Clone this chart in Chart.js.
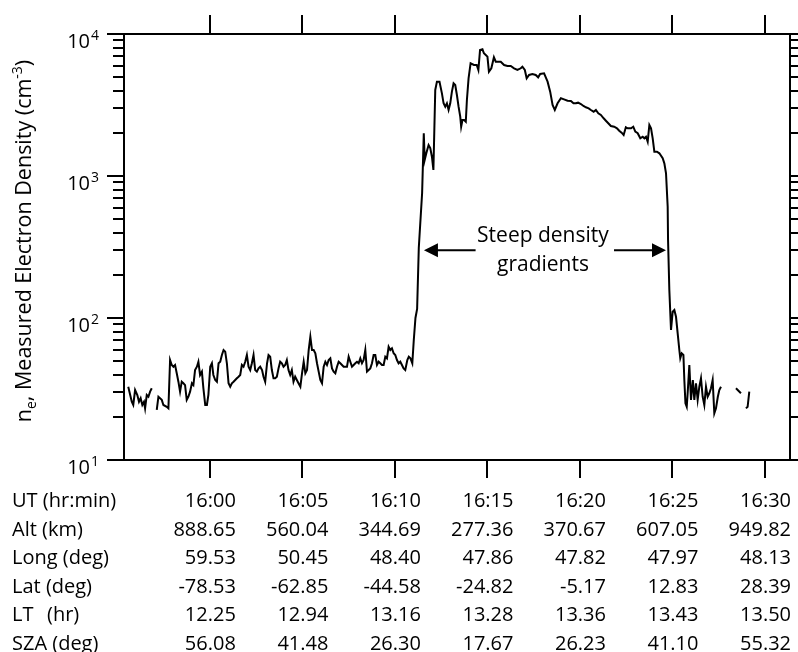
<!DOCTYPE html>
<html><head><meta charset="utf-8">
<script src="https://cdn.jsdelivr.net/npm/chart.js@4.4.1/dist/chart.umd.min.js"></script>
<style>html,body{margin:0;padding:0;background:#fff}canvas{display:block}</style>
</head><body>
<canvas id="c" width="798" height="652"></canvas>
<script>
// UT in minutes after 16:00
const utMinutes = [
-4.41,-4.22,-4.14,-4.04,-3.92,-3.83,-3.74,-3.65,-3.56,-3.50,
-3.41,-3.32,-3.23,-3.14,-3.00,-2.87,-2.78,-2.60,-2.51,-2.33,
-2.24,-2.15,-2.06,-1.97,-1.88,-1.79,-1.70,-1.61,-1.52,-1.43,
-1.34,-1.25,-1.16,-1.07,-0.97,-0.89,-0.80,-0.70,-0.62,-0.53,
-0.43,-0.35,-0.25,-0.16,-0.08,0.02,0.11,0.19,0.29,0.38,
0.47,0.56,0.65,0.74,0.83,0.92,1.01,1.10,1.19,1.28,
1.37,1.46,1.55,1.64,1.73,1.82,1.91,2.00,2.09,2.18,
2.27,2.36,2.45,2.54,2.63,2.72,2.82,2.90,2.99,3.09,
3.17,3.26,3.35,3.44,3.53,3.62,3.71,3.80,3.89,3.98,
4.07,4.16,4.25,4.34,4.43,4.52,4.61,4.70,4.79,4.89,
4.98,5.07,5.16,5.25,5.34,5.43,5.52,5.61,5.70,5.79,
5.88,5.97,6.06,6.15,6.24,6.33,6.42,6.51,6.60,6.69,
6.78,6.87,6.96,7.05,7.14,7.23,7.32,7.41,7.50,7.59,
7.68,7.77,7.86,7.95,8.04,8.13,8.22,8.31,8.40,8.49,
8.58,8.67,8.76,8.85,8.94,9.03,9.12,9.21,9.30,9.39,
9.48,9.57,9.66,9.75,9.84,9.93,10.02,10.11,10.20,10.29,
10.38,10.47,10.56,10.67,10.75,10.84,10.94,11.02,11.11,11.20,
11.29,11.47,11.56,11.61,11.70,11.82,11.91,12.00,12.08,12.18,
12.27,12.41,12.54,12.63,12.72,12.81,12.90,12.99,13.08,13.17,
13.26,13.35,13.44,13.53,13.58,13.65,13.74,13.83,13.89,13.98,
14.09,14.27,14.42,14.51,14.60,14.73,14.81,14.91,15.00,15.08,
15.21,15.35,15.45,15.72,15.90,16.08,16.26,16.44,16.62,16.80,
16.89,17.02,17.12,17.25,17.43,17.61,17.74,17.85,18.06,18.25,
18.39,18.52,18.64,18.79,18.97,19.14,19.33,19.51,19.65,19.78,
19.90,20.05,20.19,20.32,20.47,20.59,20.74,20.86,20.99,21.13,
21.28,21.40,21.53,21.67,21.85,22.00,22.12,22.25,22.36,22.48,
22.58,22.76,22.88,22.99,23.12,23.26,23.39,23.48,23.57,23.66,
23.75,23.84,23.93,24.02,24.16,24.29,24.47,24.56,24.65,24.74,
24.76,24.83,24.92,25.01,25.10,25.19,25.28,25.37,25.42,25.50,
25.59,25.64,25.70,25.77,25.83,25.91,26.00,26.10,26.18,26.27,
26.36,26.45,26.54,26.63,26.72,26.81,26.90,26.99,27.08,27.17,
27.26,27.35,27.45,27.53,27.62,28.00,28.43,28.70,28.85,28.97,
29.06,29.15
];
// n_e, measured electron density (cm^-3); null = data gap
const electronDensity = [
32.8,25.7,24.4,31.1,28.7,25.7,27.2,24.4,25.7,23.1,
28.7,27.9,30.3,32.0,null,22.5,27.9,26.5,24.4,23.7,
23.1,50.6,46.7,45.4,46.7,40.8,35.6,30.3,35.6,34.7,
33.7,26.5,27.9,30.3,34.7,33.7,43.0,45.4,49.2,39.7,
41.9,32.0,24.4,24.4,28.7,45.4,48.0,39.7,36.6,35.6,
48.0,49.2,54.9,59.5,57.9,48.0,34.7,32.8,34.7,35.6,
36.6,37.6,38.6,39.7,46.7,45.4,49.2,54.9,45.4,43.0,
48.0,54.9,43.0,41.9,44.2,45.4,43.0,38.6,35.6,48.0,
54.9,53.4,43.0,37.6,37.6,38.6,44.2,49.2,48.0,45.4,
46.7,50.6,43.0,39.7,43.0,35.6,38.6,36.6,34.7,32.8,
40.8,49.2,40.8,43.0,59.5,73.8,59.5,59.5,56.4,48.0,
41.9,36.6,34.7,45.4,49.2,46.7,50.6,52.0,44.2,41.9,
40.8,45.4,49.2,48.0,46.7,45.4,45.4,45.4,53.4,49.2,
45.4,46.7,48.0,49.2,48.0,52.0,48.0,50.6,59.5,41.9,
43.0,44.2,48.0,54.9,54.9,46.7,49.2,48.0,46.7,46.7,
53.4,52.0,62.8,59.5,61.2,56.4,54.9,50.6,48.0,49.2,
46.7,44.2,43.0,50.6,53.4,52.0,48.0,70.0,100,115.7,
311,759,2000,1297,1452,1653,1575,1367,1102,4034,
4616,4616,3822,3251,3077,3251,2917,3251,3925,4497,
4373,3718,3077,2616,2224,2479,2479,2412,3429,4875,
6220,6050,6050,5578,7714,7803,7313,7115,6924,5426,
5735,6850,6380,6380,6050,5953,5953,5735,5578,5735,
5888,5578,4875,5145,5228,5145,4955,5228,5287,4616,
3925,3162,2917,3251,3525,3467,3390,3375,3251,3251,
3284,3214,3112,3046,2996,2917,2836,2917,2764,2690,
2549,2451,2351,2250,2224,2168,2084,2018,1944,2203,
2168,2168,2224,2051,2000,1843,1891,1843,1891,1744,
2287,2168,1843,1483,1483,1445,1333,1228,1045,608,
354,157,82.3,110.8,113.8,102,78.0,59.5,52.0,56.4,
54.9,36.6,25.1,23.7,31.1,46.7,26.5,36.6,26.5,34.7,
26.5,32.8,37.6,27.9,24.4,32.8,27.9,29.5,32.0,36.6,
21.3,23.1,27.9,31.1,32.8,null,32.0,29.5,null,23.1,
23.7,30.3
];
// Time ticks (minutes after 16:00) and the orbit table beneath them
const tickMinutes = [0, 5, 10, 15, 20, 25, 30];
const utLabels = ['16:00','16:05','16:10','16:15','16:20','16:25','16:30'];
const altKm   = ['888.65','560.04','344.69','277.36','370.67','607.05','949.82'];
const longDeg = ['59.53','50.45','48.40','47.86','47.82','47.97','48.13'];
const latDeg  = ['-78.53','-62.85','-44.58','-24.82','-5.17','12.83','28.39'];
const ltHr    = ['12.25','12.94','13.16','13.28','13.36','13.43','13.50'];
const szaDeg  = ['56.08','41.48','26.30','17.67','26.23','41.10','55.32'];
const yExponents = [1, 2, 3, 4];

const FONT = '"Open Sans", "Noto Sans", sans-serif';
const points = utMinutes.map((t, i) => ({x: t, y: electronDensity[i]}));

const decor = {
  id: 'decor',
  afterDraw(chart) {
    const {ctx, chartArea: a, scales: {x, y}} = chart;
    ctx.save();
    ctx.strokeStyle = '#000';
    ctx.fillStyle = '#000';
    ctx.lineWidth = 2;
    const seg = (x1, y1, x2, y2) => { ctx.beginPath(); ctx.moveTo(x1, y1); ctx.lineTo(x2, y2); ctx.stroke(); };
    // frame
    ctx.strokeRect(a.left, a.top, a.right - a.left, a.bottom - a.top);
    // time ticks, top and bottom, outward
    tickMinutes.forEach(t => {
      const px = Math.round(x.getPixelForValue(t));
      seg(px, a.top, px, a.top - 19);
      seg(px, a.bottom, px, a.bottom + 18);
    });
    // log ticks left and right, outward
    const emin = yExponents[0], emax = yExponents[yExponents.length - 1];
    for (let e = emin; e <= emax; e++) {
      for (let m = 1; m <= 9; m++) {
        if (e === emax && m > 1) break;
        const v = m * Math.pow(10, e);
        const py = Math.round(y.getPixelForValue(v));
        const len = m === 1 ? 17 : 11;
        seg(a.left, py, a.left - len, py);
        seg(a.right, py, a.right + len, py);
      }
    }
    // y tick labels 10^n
    yExponents.forEach(e => {
      const py = y.getPixelForValue(Math.pow(10, e));
      ctx.font = '20px ' + FONT;
      ctx.textAlign = 'right';
      ctx.textBaseline = 'alphabetic';
      ctx.fillText('10', a.left - 34, py + 14);
      ctx.font = '14px ' + FONT;
      ctx.textAlign = 'left';
      ctx.fillText(String(e), a.left - 33, py + 6);
    });
    // y axis title (rotated)
    ctx.save();
    ctx.translate(31, 241);
    ctx.rotate(-Math.PI / 2);
    ctx.textAlign = 'left';
    ctx.textBaseline = 'alphabetic';
    const parts = [
      ['n', 21.5, 0], ['e', 14, 5], [', Measured Electron Density (cm', 21.5, 0], ['-3', 14, -9], [')', 21.5, 0]
    ];
    let total = 0;
    parts.forEach(p => { ctx.font = p[1] + 'px ' + FONT; total += ctx.measureText(p[0]).width; });
    let cx = -total / 2;
    parts.forEach(p => { ctx.font = p[1] + 'px ' + FONT; ctx.fillText(p[0], cx, p[2]); cx += ctx.measureText(p[0]).width; });
    ctx.restore();
    // annotation
    const ay = y.getPixelForValue(300);
    const lt = x.getPixelForValue(11.57), lb = x.getPixelForValue(14.36);
    const rt = x.getPixelForValue(24.65), rb = x.getPixelForValue(21.84);
    seg(lb, ay, lt + 12, ay);
    seg(rb, ay, rt - 12, ay);
    ctx.beginPath(); ctx.moveTo(lt, ay); ctx.lineTo(lt + 14, ay - 7); ctx.lineTo(lt + 14, ay + 7); ctx.closePath(); ctx.fill();
    ctx.beginPath(); ctx.moveTo(rt, ay); ctx.lineTo(rt - 14, ay - 7); ctx.lineTo(rt - 14, ay + 7); ctx.closePath(); ctx.fill();
    const tx = x.getPixelForValue(18.0);
    ctx.font = '21px ' + FONT;
    ctx.textAlign = 'center';
    ctx.fillText('Steep density', tx, ay - 8);
    ctx.fillText('gradients', tx, ay + 20.5);
    // table
    const rows = [['UT (hr:min)', utLabels], ['Alt (km)', altKm], ['Long (deg)', longDeg],
                  ['Lat (deg)', latDeg], ['LT', ltHr], ['SZA (deg)', szaDeg]];
    ctx.font = '20px ' + FONT;
    rows.forEach((r, i) => {
      const by = 507 + i * 28.5;
      ctx.textAlign = 'left';
      ctx.fillText(r[0], 12, by);
      if (r[0] === 'LT') ctx.fillText('(hr)', 47, by);
      ctx.textAlign = 'right';
      r[1].forEach((s, j) => ctx.fillText(s, x.getPixelForValue(tickMinutes[j]) + 26, by));
    });
    ctx.restore();
  }
};

new Chart(document.getElementById('c'), {
  type: 'line',
  data: { datasets: [{ data: points, borderColor: '#000', borderWidth: 2, pointRadius: 0, tension: 0, spanGaps: false, fill: false }] },
  options: {
    responsive: false, devicePixelRatio: 1, animation: false,
    layout: { padding: { left: 124, right: 8, top: 34, bottom: 192 } },
    plugins: { legend: { display: false }, tooltip: { enabled: false } },
    scales: {
      x: { type: 'linear', min: -4.64, max: 31.35, display: false },
      y: { type: 'logarithmic', min: 10, max: 10000, display: false }
    }
  },
  plugins: [decor]
});
</script>
</body></html>
